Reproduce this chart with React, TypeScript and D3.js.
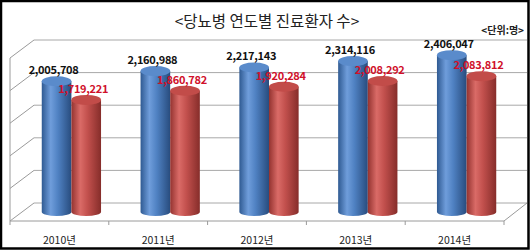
import React from "react";
import * as d3 from "d3";

const categories = ["2010년", "2011년", "2012년", "2013년", "2014년"];
const seriesKeys = ["patients", "other"];
const blueValues = [2005708, 2160988, 2217143, 2314116, 2406047];
const redValues = [1719221, 1860782, 1920284, 2008292, 2083812];
const yTicks = [0, 500000, 1000000, 1500000, 2000000, 2500000];
const title = "<당뇨병 연도별 진료환자 수>";
const unitLabel = "<단위:명>";

const W = 530;
const H = 250;
const FONT = "'Noto Sans CJK KR', 'Noto Sans', sans-serif";

export default function App() {
  const frontLeft = 10;
  const frontRight = 504;
  const frontFloor = 221;
  const depthX = 24;
  const depthY = -18;
  const wallRight = 527;
  const plotH = 163;

  const yFront = d3.scaleLinear().domain([0, 2500000]).range([frontFloor, frontFloor - plotH]);
  const yBack = (v: number) => yFront(v) + depthY;
  const yMid = (v: number) => yFront(v) + depthY / 2;

  const x0 = d3.scaleBand<string>().domain(categories).range([frontLeft, frontRight]);
  const bw = x0.bandwidth();
  const x1 = d3.scaleBand<string>().domain(seriesKeys).range([bw * 0.2, bw * 0.8]);
  const barW = x1.bandwidth();
  const rx = barW / 2;
  const ryTop = 5;
  const ryBot = 4;

  const fmt = d3.format(",");

  const series = [
    { key: "patients", values: blueValues, grad: "gBlue", top: "#5a8bcb", label: "#111111" },
    { key: "other", values: redValues, grad: "gRed", top: "#c24c49", label: "#d0102a" },
  ];

  return (
    <svg width={W} height={H} style={{ position: "fixed", left: 0, top: 0, background: "#fff" }}>
      <defs>
        <linearGradient id="gBlue" x1="0" x2="1" y1="0" y2="0">
          <stop offset="0" stopColor="#2f5a92" />
          <stop offset="0.3" stopColor="#6f9ddb" />
          <stop offset="0.55" stopColor="#4f81c2" />
          <stop offset="1" stopColor="#284c7e" />
        </linearGradient>
        <linearGradient id="gRed" x1="0" x2="1" y1="0" y2="0">
          <stop offset="0" stopColor="#943330" />
          <stop offset="0.3" stopColor="#da6b67" />
          <stop offset="0.55" stopColor="#c2504d" />
          <stop offset="1" stopColor="#862d2a" />
        </linearGradient>
      </defs>
      <rect x={0} y={0} width={W} height={H} fill="#ffffff" />

      {yTicks.map((t) => (
        <g key={t}>
          <line x1={frontLeft} y1={yFront(t)} x2={frontLeft + depthX} y2={yBack(t)} stroke="#9a9a9a" strokeWidth={1} />
          <line x1={frontLeft + depthX} y1={yBack(t)} x2={wallRight} y2={yBack(t)} stroke="#a8a8a8" strokeWidth={1} />
        </g>
      ))}
      <line x1={frontLeft} y1={yFront(2500000)} x2={frontLeft} y2={frontFloor + 4} stroke="#9a9a9a" strokeWidth={1} />
      <line x1={frontLeft} y1={frontFloor} x2={frontRight} y2={frontFloor} stroke="#9a9a9a" strokeWidth={1} />
      <line x1={frontRight} y1={frontFloor} x2={wallRight} y2={frontFloor + depthY} stroke="#9a9a9a" strokeWidth={1} />
      {categories.map((c) => (
        <line key={c} x1={(x0(c) as number) + bw} y1={frontFloor} x2={(x0(c) as number) + bw} y2={frontFloor + 4} stroke="#9a9a9a" strokeWidth={1} />
      ))}

      {categories.map((c, i) => (
        <g key={c}>
          {series.map((s) => {
            const left = (x0(c) as number) + (x1(s.key) as number) + depthX / 2;
            const cx = left + rx;
            const yt = yMid(s.values[i]);
            const yb = yMid(0);
            return (
              <g key={s.key}>
                <path
                  d={`M${left},${yt} L${left},${yb} A${rx},${ryBot} 0 0 0 ${left + barW},${yb} L${left + barW},${yt} Z`}
                  fill={`url(#${s.grad})`}
                />
                <ellipse cx={cx} cy={yt} rx={rx} ry={ryTop} fill={s.top} />
              </g>
            );
          })}
        </g>
      ))}

      {categories.map((c, i) => (
        <g key={c}>
          {series.map((s) => {
            const left = (x0(c) as number) + (x1(s.key) as number) + depthX / 2;
            const cx = left + rx - 3;
            const yt = yMid(s.values[i]);
            return (
              <text
                key={s.key}
                x={cx}
                y={yt - ryTop - 2}
                textAnchor="middle"
                fontFamily={FONT}
                fontSize={11}
                fontWeight={600}
                fill={s.label}
                letterSpacing={-0.3}
              >
                {fmt(s.values[i])}
              </text>
            );
          })}
        </g>
      ))}

      {categories.map((c) => (
        <text key={c} x={(x0(c) as number) + bw / 2} y={244} textAnchor="middle" fontFamily={FONT} fontSize={10.5} fill="#222">
          {c}
        </text>
      ))}

      <text x={267} y={27} textAnchor="middle" fontFamily={FONT} fontSize={15.5} fill="#222">
        {title}
      </text>
      <text x={524} y={34} textAnchor="end" fontFamily={FONT} fontSize={10} fontWeight={700} fill="#222">
        {unitLabel}
      </text>

      <rect x={1} y={1} width={W - 2.5} height={H - 2.5} fill="none" stroke="#000" strokeWidth={2.5} />
    </svg>
  );
}
